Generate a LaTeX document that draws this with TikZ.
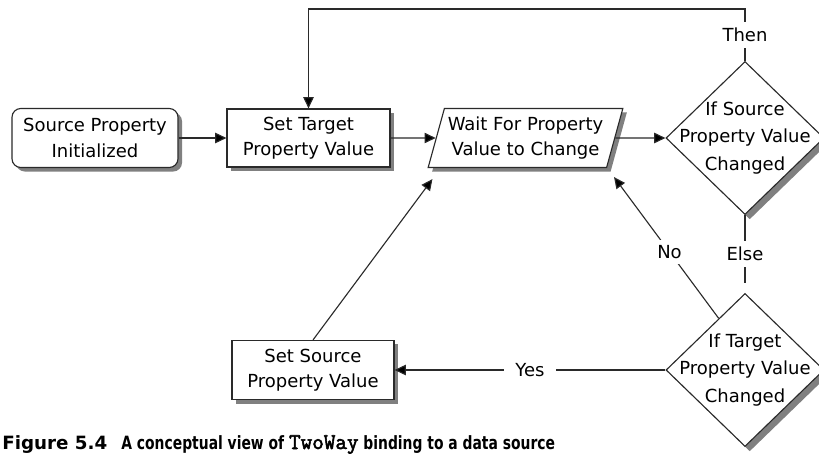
\documentclass[tikz,border=0pt]{standalone}
\usepackage{fontspec}
\setmainfont{DejaVu Sans}
\newfontfamily\capsans{DejaVu Sans}[FakeStretch=0.76]
\newfontfamily\capmono{Latin Modern Mono}[AutoFakeBold=2.5]
\usepackage{tikz}
\usetikzlibrary{arrows.meta}
\usetikzlibrary{shapes.geometric}
\usetikzlibrary{shadows}
\usetikzlibrary{calc}
\definecolor{boxline}{HTML}{2a2a2a}
\definecolor{boxshadow}{HTML}{808080}

\begin{document}
\begin{tikzpicture}[
		x=0.025cm, y=-0.025cm,
		box/.style={draw=boxline, line width=0.8pt, fill=white, align=center,
			font=\fontsize{12.8}{18}\selectfont, inner sep=0pt,
			drop shadow={shadow xshift=0.1cm, shadow yshift=-0.1cm, fill=boxshadow, opacity=1}},
		decision/.style={box, diamond, minimum width=3.95cm, minimum height=3.825cm,
			inner xsep=-1.3cm, inner ysep=-0.9cm, font=\fontsize{12.8}{19.5}\selectfont,
			drop shadow={shadow xshift=0.12cm, shadow yshift=-0.12cm, fill=boxshadow, opacity=1}},
		flow/.style={draw=boxline, line width=0.8pt,
			-{Triangle[length=0.28cm, width=0.26cm, fill=black]}},
		link/.style={draw=boxline, line width=0.8pt},
		tag/.style={fill=white, font=\fontsize{12.8}{15}\selectfont, inner sep=4pt}
	]
	\useasboundingbox (0,0) rectangle (819,453);

	\node[box, rounded corners=0.22cm, minimum width=4.15cm, minimum height=1.475cm]
		(init) at (95,138)
			{Source Property\\Initialized};
	\node[box, minimum width=4.075cm, minimum height=1.45cm]
		(settarget) at (308.5,138)
			{Set Target\\Property Value};
	\node[box, trapezium, trapezium left angle=70, trapezium right angle=110,
		trapezium stretches=true, minimum width=4.875cm, minimum height=1.475cm]
		(wait) at (525.5,138)
			{Wait For Property\\Value to Change};
	\node[decision]
		(ifsrc) at (745,138)
			{If Source\\Property Value\\Changed};
	\node[decision]
		(iftgt) at (745,370)
			{If Target\\Property Value\\Changed};
	\node[box, minimum width=4.05cm, minimum height=1.475cm]
		(setsrc) at (313,370)
			{Set Source\\Property Value};

	\coordinate (top) at (0,9);
	\coordinate (waitleft) at ($(wait.bottom left corner)+(5,11)$);
	\coordinate (waitright) at ($(wait.bottom right corner)+(7,9)$);

	\draw[flow] (init) -- (settarget);
	\draw[flow] (settarget) -- (wait);
	\draw[flow] (wait) -- (ifsrc);
	\draw[flow]
		(ifsrc.north) -- node[tag] {Then} (ifsrc.north |- top)
		-| (settarget.north);
	\draw[link, shorten >=0.25cm]
		(ifsrc.south) -- node[tag] {Else} (iftgt.north);
	\draw[flow]
		(iftgt.117) -- node[tag, pos=0.47] {No} (waitright);
	\draw[flow]
		(iftgt) -- node[tag, inner xsep=8pt] {Yes} (setsrc);
	\draw[flow] (setsrc.north) -- (waitleft);

	\node[anchor=base west, inner sep=0pt, font=\bfseries]
		(caption) at (2,449)
			{\fontsize{13}{15}\selectfont Figure 5.4\hspace{10pt}\capsans
			A conceptual view of {\capmono\fontsize{16}{15}\selectfont TwoWay} binding to a data source};
\end{tikzpicture}
\end{document}
